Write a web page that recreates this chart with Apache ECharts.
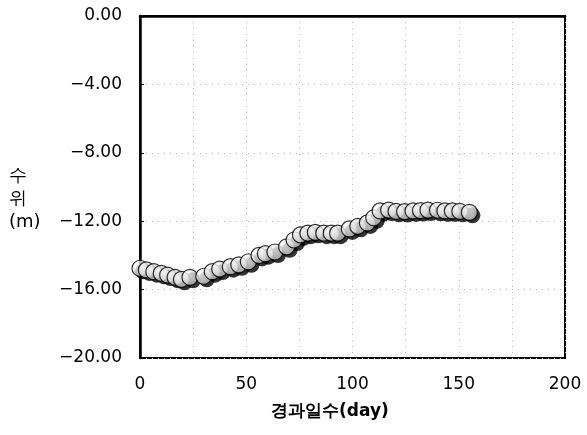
<!DOCTYPE html>
<html>
<head>
<meta charset="utf-8">
<script src="https://cdn.jsdelivr.net/npm/echarts@6/dist/echarts.min.js"></script>
<style>html,body{margin:0;padding:0;background:#fff;}#c{width:587px;height:435px;}</style>
</head>
<body>
<div id="c"></div>
<script>
const days = [0, 3, 6.5, 10, 13, 16.5, 19.5, 23.5, 30, 34, 37.5, 42.5, 46.5, 51, 56, 59, 63.5, 69, 72.5, 75.5, 79, 82.5, 86.5, 90, 93, 98.5, 102.5, 107, 110, 113, 117, 120.5, 124.5, 128.5, 132, 135.5, 140, 143.5, 147, 150.5, 155];
const levels = [-14.75, -14.85, -14.95, -15.05, -15.15, -15.28, -15.4, -15.28, -15.22, -14.95, -14.8, -14.66, -14.55, -14.37, -14.0, -13.9, -13.8, -13.5, -13.1, -12.8, -12.7, -12.65, -12.7, -12.7, -12.7, -12.45, -12.3, -12.1, -11.8, -11.4, -11.35, -11.42, -11.44, -11.4, -11.38, -11.35, -11.36, -11.4, -11.4, -11.42, -11.48];
const xLabels = [0, 50, 100, 150, 200];
const yTitle = '수\n위\n(m)';
const xTitle = '경과일수(day)';

const FONT = 'DejaVu Sans';
const pts = days.map((d, i) => [d, levels[i]]);
const chart = echarts.init(document.getElementById('c'), null, {renderer: 'canvas'});
chart.setOption({
  animation: false,
  backgroundColor: '#fff',
  grid: {left: 140, right: 22, top: 16, bottom: 77, show: true, borderColor: '#000', borderWidth: 2, backgroundColor: 'transparent'},
  xAxis: {
    type: 'value', min: 0, max: 200, interval: 25,
    axisLine: {show: true, lineStyle: {color: '#000', width: 2.5}},
    axisTick: {show: false},
    splitLine: {show: true, lineStyle: {color: '#bbb', type: [1, 5], width: 1}},
    axisLabel: {
      color: '#000', fontFamily: FONT, fontSize: 17, margin: 18,
      formatter: v => xLabels.indexOf(v) >= 0 ? String(v) : ''
    }
  },
  yAxis: {
    type: 'value', min: -20, max: 0, interval: 4,
    axisLine: {show: true, lineStyle: {color: '#000', width: 2.5}},
    axisTick: {show: true, inside: true, length: 4, lineStyle: {color: '#000'}},
    splitLine: {show: true, lineStyle: {color: '#bbb', type: [1, 5], width: 1}},
    axisLabel: {
      color: '#000', fontFamily: FONT, fontSize: 17, margin: 18,
      formatter: v => (v < 0 ? '\u2212' + Math.abs(v).toFixed(2) : v.toFixed(2))
    }
  },
  graphic: [
    {type: 'text', left: 9, top: 165, style: {text: yTitle, fontFamily: FONT, fontSize: 18, fill: '#000', align: 'center', lineHeight: 23, x: 17}},
    {type: 'text', left: 271, top: 403, style: {text: xTitle, fontFamily: FONT, fontSize: 17, fontWeight: 'bold', fill: '#000'}}
  ],
  series: [{
    type: 'scatter',
    clip: false,
    silent: true,
    data: pts,
    symbol: 'circle',
    symbolSize: 16,
    symbolOffset: [3, 3],
    itemStyle: {color: '#000'}
  }, {
    type: 'scatter',
    clip: false,
    data: pts,
    symbol: 'circle',
    symbolSize: 16,
    itemStyle: {
      color: {type: 'radial', x: 0.3, y: 0.35, r: 0.8, colorStops: [{offset: 0, color: '#ffffff'}, {offset: 0.5, color: '#e0e0e0'}, {offset: 1, color: '#b5b5b5'}]},
      borderColor: '#000', borderWidth: 1.2
    }
  }]
});
</script>
</body>
</html>
